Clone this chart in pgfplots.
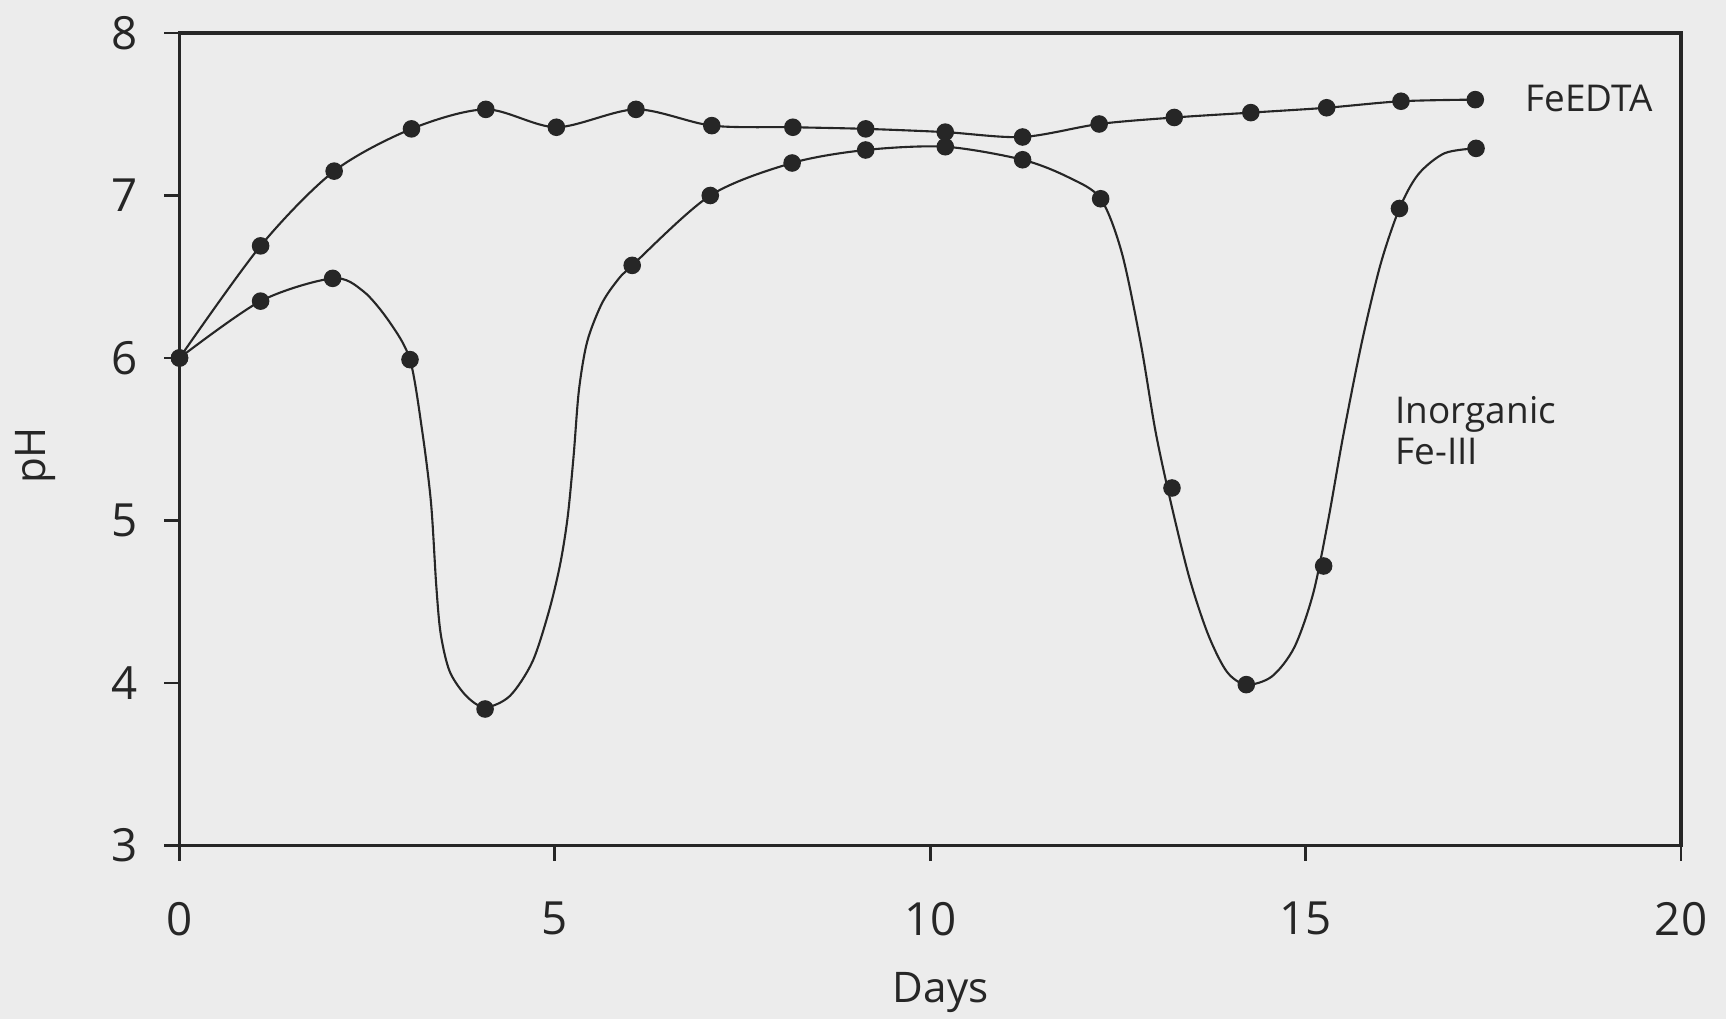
\documentclass[border=0pt]{standalone}
\usepackage{fontspec}
\setmainfont{Open Sans}
\usepackage{pgfplots}
\pgfplotsset{compat=1.18}
\definecolor{paper}{RGB}{236,236,236}
\definecolor{ink}{RGB}{38,38,38}

\pgfplotstableread{
x y
0.00 6.00
1.08 6.69
2.06 7.15
3.09 7.41
4.08 7.53
5.02 7.42
6.08 7.53
7.09 7.43
8.17 7.42
9.14 7.41
10.20 7.39
11.23 7.36
12.25 7.44
13.25 7.48
14.27 7.51
15.28 7.54
16.27 7.58
17.26 7.59
}\feedta

\pgfplotstableread{
x y
0.00 6.00
1.08 6.35
2.04 6.49
3.07 5.99
4.07 3.84
6.03 6.57
7.07 7.00
8.16 7.20
9.14 7.28
10.20 7.30
11.23 7.22
12.27 6.98
13.22 5.20
14.21 3.99
15.24 4.72
16.25 6.92
17.27 7.29
}\inorgdots

\pgfplotstableread{
x y
0.00 6.00
1.08 6.35
2.04 6.49
2.45 6.41
2.80 6.22
3.07 5.99
3.23 5.56
3.35 5.11
3.42 4.60
3.48 4.30
3.60 4.07
3.82 3.92
4.07 3.85
4.40 3.92
4.70 4.13
4.92 4.44
5.07 4.73
5.17 5.02
5.25 5.40
5.32 5.80
5.43 6.10
5.62 6.33
5.82 6.47
6.03 6.57
7.07 7.00
8.16 7.20
9.14 7.28
10.20 7.30
11.23 7.22
11.85 7.11
12.27 6.98
12.55 6.65
12.80 6.10
13.00 5.55
13.20 5.12
13.45 4.65
13.70 4.30
13.95 4.07
14.21 3.99
14.55 4.04
14.85 4.22
15.10 4.55
15.30 5.00
15.50 5.52
15.75 6.10
16.00 6.58
16.25 6.92
16.50 7.13
16.85 7.26
17.27 7.29
}\inorgcurve

\begin{document}
\begin{tikzpicture}
\fill[paper] (-17.95mm,-17.35mm) rectangle (154.65mm,84.55mm);
\begin{axis}[
  at={(0,0)}, anchor=south west,
  scale only axis, width=150.15mm, height=81.25mm,
  xmin=0, xmax=20, ymin=3, ymax=8,
  xtick={0,5,10,15,20}, ytick={3,4,5,6,7,8},
  tick align=outside, xtick pos=bottom, ytick pos=left,
  major tick length=1.5mm,
  axis line style={ink, line width=0.9pt},
  every tick/.style={ink, line width=0.8pt},
  /pgf/number format/assume math mode=true,
  tick label style={font=\fontsize{13}{15}\selectfont, text=ink},
  xticklabel style={inner sep=0pt, anchor=north, yshift=-4.1mm},
  yticklabel style={inner sep=0pt, anchor=east, xshift=-2.6mm},
  xlabel={Days}, ylabel={pH},
  label style={font=\fontsize{12}{14}\selectfont, text=ink, inner sep=0pt},
  xlabel style={at={(axis description cs:0.507,-0.181)}, anchor=center},
  ylabel style={at={(axis description cs:-0.0956,0.48)}, anchor=center},
  clip=false,
]
\addplot[ink, line width=0.6pt, smooth, tension=0.5] table {\feedta};
\addplot[ink, line width=0.6pt, smooth, tension=0.5] table {\inorgcurve};
\addplot[only marks, mark=*, mark size=2.3pt, mark options={fill=ink, draw=ink}] table {\feedta};
\addplot[only marks, mark=*, mark size=2.3pt, mark options={fill=ink, draw=ink}] table {\inorgdots};
\node[anchor=base west, inner sep=0pt, font=\fontsize{10.5}{12}\selectfont, text=ink] at (axis cs:17.92,7.516) {FeEDTA};
\node[anchor=base west, inner sep=0pt, font=\fontsize{10.5}{12}\selectfont, text=ink] at (axis cs:16.19,5.598) {Inorganic};
\node[anchor=base west, inner sep=0pt, font=\fontsize{10.5}{12}\selectfont, text=ink] at (axis cs:16.19,5.342) {Fe-III};
\end{axis}
\pgfresetboundingbox
\useasboundingbox (-17.95mm,-17.35mm) rectangle (154.65mm,84.55mm);
\end{tikzpicture}
\end{document}
